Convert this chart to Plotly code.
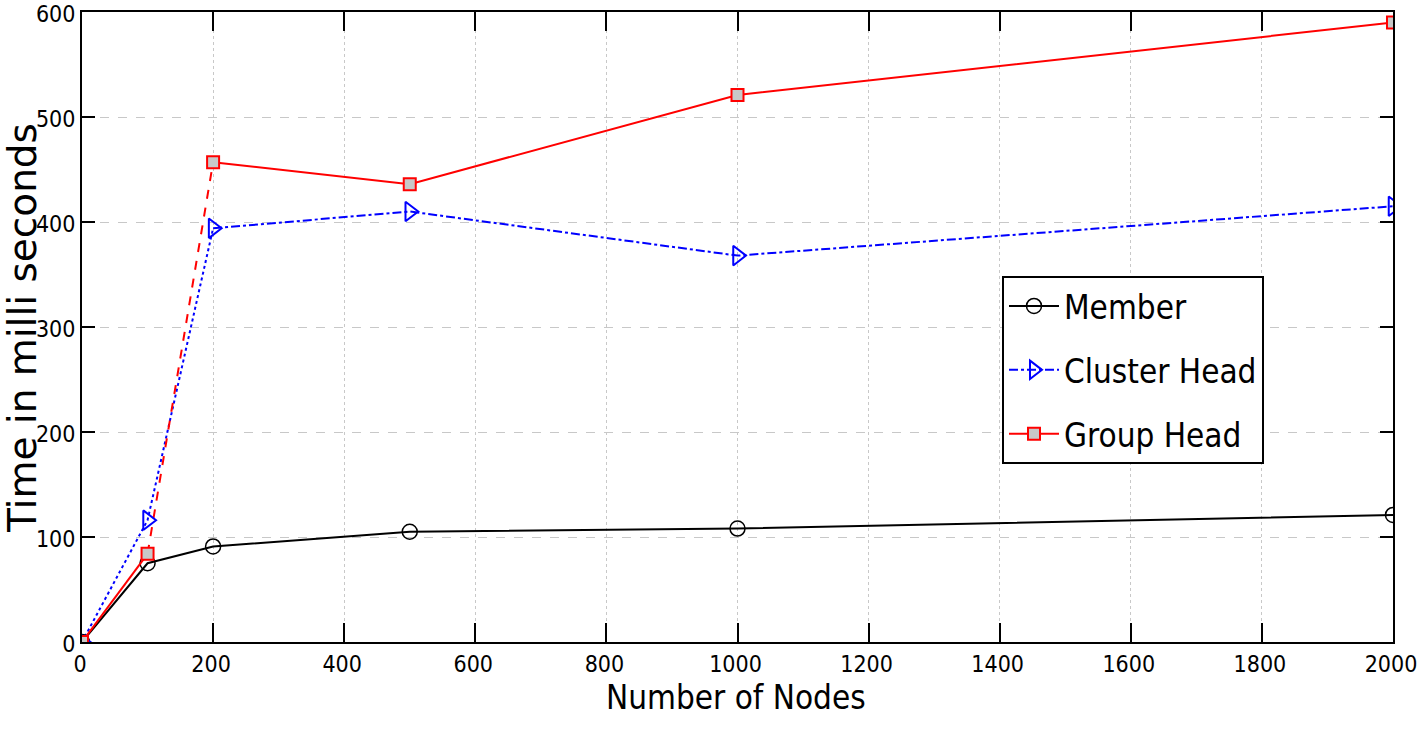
import plotly.graph_objects as go

nodes = [0, 100, 200, 500, 1000, 2000]
member = [0, 75, 91, 105, 108, 121]
cluster_head = [0, 116, 394, 410, 368, 415]
group_head = [0, 84, 457, 436, 521, 590]

x_ticks = list(range(0, 2001, 200))
y_ticks = list(range(0, 601, 100))

NARROW = "Liberation Sans Narrow, DejaVu Sans Condensed, Arial Narrow, Liberation Sans, sans-serif"

fig = go.Figure()

# steep segments rendered with a different dash pattern (as in the reference)
fig.add_trace(go.Scatter(x=nodes[0:3], y=cluster_head[0:3], mode="lines",
                         line=dict(color="blue", width=2, dash="dot"),
                         showlegend=False, hoverinfo="skip", legendgroup="g0"))
fig.add_trace(go.Scatter(x=nodes[1:3], y=group_head[1:3], mode="lines",
                         line=dict(color="red", width=2, dash="dash"),
                         showlegend=False, hoverinfo="skip", legendgroup="g0"))

fig.add_trace(go.Scatter(x=nodes, y=member, name="Member", mode="lines+markers",
                         line=dict(color="black", width=2), legendgroup="g1",
                         marker=dict(symbol="circle-open", size=15, color="black",
                                     line=dict(width=1.5))))
fig.add_trace(go.Scatter(x=nodes[0:2], y=cluster_head[0:2], mode="markers",
                         marker=dict(symbol="triangle-right-open", size=17, color="blue",
                                     line=dict(width=2)),
                         showlegend=False, hoverinfo="skip", legendgroup="g0"))
fig.add_trace(go.Scatter(x=nodes[2:], y=cluster_head[2:], name="Cluster Head", mode="lines+markers",
                         line=dict(color="blue", width=2, dash="dashdot"), legendgroup="g2",
                         marker=dict(symbol="triangle-right-open", size=17, color="blue",
                                     line=dict(width=2))))
fig.add_trace(go.Scatter(x=nodes[0:2], y=group_head[0:2], mode="lines",
                         line=dict(color="red", width=2),
                         showlegend=False, hoverinfo="skip", legendgroup="g0"))
fig.add_trace(go.Scatter(x=nodes[2:], y=group_head[2:], name="Group Head", mode="lines+markers",
                         line=dict(color="red", width=2), legendgroup="g3",
                         marker=dict(symbol="square", size=12, color="#c8c8c8",
                                     line=dict(color="red", width=2))))
fig.add_trace(go.Scatter(x=nodes[0:2], y=group_head[0:2], mode="markers",
                         marker=dict(symbol="square", size=12, color="#c8c8c8",
                                     line=dict(color="red", width=2)),
                         showlegend=False, hoverinfo="skip", legendgroup="g0"))

PL, PR, PT, PB = 82, 1393, 12, 642  # plot area on screen
W, H = 1418, 742

fig.update_layout(
    width=W, height=H,
    margin=dict(l=PL, r=W - PR, t=PT, b=H - PB),
    paper_bgcolor="white", plot_bgcolor="white",
    font=dict(family=NARROW, size=23, color="black"),
    showlegend=True,
    legend=dict(x=(1002 - PL) / (PR - PL), y=(PB - 276) / (PB - PT), xanchor="left", yanchor="top",
                bordercolor="black", borderwidth=2, bgcolor="white",
                font=dict(family=NARROW, size=33, color="black"),
                itemwidth=50, tracegroupgap=18),
    xaxis=dict(range=[0, 2000.01], tickmode="array", tickvals=x_ticks,
               ticks="inside", ticklen=19, tickwidth=2, tickcolor="black",
               showline=True, linecolor="black", linewidth=2, mirror="ticks",
               showgrid=True, gridcolor="#c8c8c8", gridwidth=1, griddash="dot",
               zeroline=False, automargin=False, ticklabeloverflow="allow",
               ticklabelshift=-2,
               tickfont=dict(family=NARROW, size=23)),
    yaxis=dict(range=[0, 600.01], tickmode="array", tickvals=y_ticks,
               ticks="inside", ticklen=13, tickwidth=2, tickcolor="black",
               showline=True, linecolor="black", linewidth=2, mirror="ticks",
               showgrid=True, gridcolor="#c8c8c8", gridwidth=1, griddash="dash",
               zeroline=False, automargin=False, ticklabeloverflow="allow",
               ticklabelshift=2,
               tickfont=dict(family=NARROW, size=23)),
    annotations=[
        dict(text="Number of Nodes", xref="paper", yref="paper",
             x=(736 - PL) / (PR - PL), y=-(697 - PB) / (PB - PT), xanchor="center", yanchor="middle",
             showarrow=False, font=dict(family=NARROW, size=33, color="black")),
        dict(text="Time in milli seconds", xref="paper", yref="paper",
             x=-(PL - 22) / (PR - PL), y=(PB - 328) / (PB - PT), xanchor="center", yanchor="middle",
             textangle=-90, showarrow=False,
             font=dict(family="DejaVu Sans, Liberation Sans, sans-serif", size=39, color="black")),
    ],
)

fig.write_html("out.html", config={"displayModeBar": False},
               post_script="document.body.style.margin='0';")
